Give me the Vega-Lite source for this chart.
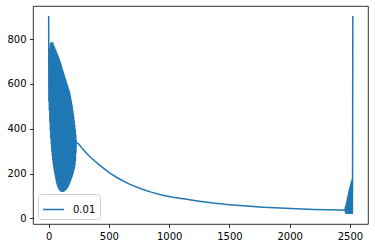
{
  "$schema": "https://vega.github.io/schema/vega-lite/v6.json",
  "width": 335,
  "height": 218,
  "autosize": {"type": "none"},
  "padding": {"left": 33, "top": 6, "right": 7, "bottom": 24},
  "background": "white",
  "data": {"values": [
    {"x":0,"y":904},{"x":2,"y":520},
    {"x":4,"y":650},{"x":6,"y":480},{"x":8,"y":720},{"x":10,"y":430},{"x":12,"y":760},{"x":14,"y":390},
    {"x":16,"y":780},{"x":18,"y":355},{"x":20,"y":786},{"x":22,"y":330},{"x":24,"y":787},{"x":26,"y":300},
    {"x":28,"y":786},{"x":30,"y":280},{"x":32,"y":786},{"x":34,"y":260},{"x":36,"y":781},{"x":38,"y":244},
    {"x":40,"y":775},{"x":42,"y":229},{"x":44,"y":770},{"x":46,"y":216},{"x":48,"y":765},{"x":50,"y":204},
    {"x":52,"y":759},{"x":54,"y":192},{"x":56,"y":754},{"x":58,"y":180},{"x":60,"y":749},{"x":62,"y":169},
    {"x":64,"y":743},{"x":66,"y":158},{"x":68,"y":738},{"x":70,"y":151},{"x":72,"y":733},{"x":74,"y":144},
    {"x":76,"y":727},{"x":78,"y":138},{"x":80,"y":722},{"x":82,"y":134},{"x":84,"y":717},{"x":86,"y":130},
    {"x":88,"y":711},{"x":90,"y":126},{"x":92,"y":705},{"x":94,"y":123},{"x":96,"y":698},{"x":98,"y":121},
    {"x":100,"y":691},{"x":102,"y":120},{"x":104,"y":684},{"x":106,"y":119},{"x":108,"y":677},{"x":110,"y":118},
    {"x":112,"y":670},{"x":114,"y":118},{"x":116,"y":663},{"x":118,"y":118},{"x":120,"y":656},{"x":122,"y":119},
    {"x":124,"y":649},{"x":126,"y":120},{"x":128,"y":642},{"x":130,"y":121},{"x":132,"y":635},{"x":134,"y":123},
    {"x":136,"y":628},{"x":138,"y":124},{"x":140,"y":621},{"x":142,"y":126},{"x":144,"y":614},{"x":146,"y":129},
    {"x":148,"y":607},{"x":150,"y":132},{"x":152,"y":600},{"x":154,"y":135},{"x":156,"y":593},{"x":158,"y":138},
    {"x":160,"y":587},{"x":162,"y":142},{"x":164,"y":580},{"x":166,"y":147},{"x":168,"y":573},{"x":170,"y":152},
    {"x":172,"y":566},{"x":174,"y":157},{"x":176,"y":558},{"x":178,"y":162},{"x":180,"y":547},{"x":182,"y":168},
    {"x":184,"y":535},{"x":186,"y":174},{"x":188,"y":524},{"x":190,"y":180},{"x":192,"y":512},{"x":194,"y":186},
    {"x":196,"y":499},{"x":198,"y":192},{"x":200,"y":484},{"x":202,"y":199},{"x":204,"y":469},{"x":206,"y":206},
    {"x":208,"y":454},{"x":210,"y":215},{"x":212,"y":436},{"x":214,"y":224},{"x":216,"y":418},{"x":218,"y":236},
    {"x":220,"y":400},{"x":222,"y":256},{"x":224,"y":378},{"x":226,"y":290},{"x":228,"y":350},{"x":230,"y":334},
    {"x":244,"y":335},{"x":285,"y":308},{"x":327,"y":283},{"x":380,"y":257},{"x":438,"y":231},{"x":505,"y":203},
    {"x":576,"y":179},{"x":670,"y":153},{"x":771,"y":131},{"x":850,"y":117},{"x":937,"y":104},{"x":1030,"y":94},
    {"x":1130,"y":86},{"x":1250,"y":76.5},{"x":1366,"y":68},{"x":1500,"y":61},{"x":1643,"y":55},{"x":1780,"y":50},
    {"x":1920,"y":46},{"x":2060,"y":43},{"x":2197,"y":40},{"x":2330,"y":38},{"x":2460,"y":36},
    {"x":2462,"y":50},{"x":2464,"y":24},{"x":2466,"y":58},{"x":2468,"y":20},{"x":2470,"y":66},{"x":2472,"y":19},
    {"x":2474,"y":76},{"x":2476,"y":19},{"x":2478,"y":86},{"x":2480,"y":19},{"x":2482,"y":96},{"x":2484,"y":19},
    {"x":2486,"y":106},{"x":2488,"y":19},{"x":2490,"y":117},{"x":2492,"y":19},{"x":2494,"y":127},{"x":2496,"y":19},
    {"x":2498,"y":136},{"x":2500,"y":19},{"x":2502,"y":144},{"x":2504,"y":19},{"x":2506,"y":152},{"x":2508,"y":19},
    {"x":2510,"y":160},{"x":2512,"y":19},{"x":2514,"y":168},{"x":2516,"y":19},{"x":2518,"y":176},{"x":2520,"y":19},
    {"x":2522,"y":184},{"x":2524,"y":904}
  ]},
  "mark": {"type": "line", "strokeWidth": 1.5, "clip": true},
  "encoding": {
    "x": {"field": "x", "type": "quantitative",
      "scale": {"domain": [-130, 2650], "nice": false, "zero": false},
      "axis": {"values": [0, 500, 1000, 1500, 2000, 2500], "format": "d", "title": null, "labelFlush": false}},
    "y": {"field": "y", "type": "quantitative",
      "scale": {"domain": [-25.3, 948.3], "nice": false, "zero": false},
      "axis": {"values": [0, 200, 400, 600, 800], "format": "d", "title": null}},
    "color": {"datum": "0.01", "type": "nominal",
      "scale": {"range": ["#1f77b4"]},
      "legend": {"orient": "bottom-left", "offset": 5, "title": null, "symbolType": "stroke",
        "symbolSize": 441, "symbolStrokeWidth": 1.5, "strokeColor": "#d0d0d0",
        "fillColor": "rgba(255,255,255,0.8)", "cornerRadius": 3, "padding": 4,
        "labelFontSize": 10, "labelFont": "DejaVu Sans", "labelColor": "#000", "labelOffset": 8}}
  },
  "config": {
    "view": {"stroke": "#000", "strokeWidth": 0.8},
    "axis": {"domain": false, "grid": false, "tickColor": "#000", "tickSize": 3.5, "tickWidth": 0.8,
      "labelColor": "#000", "labelFont": "DejaVu Sans", "labelFontSize": 10, "labelPadding": 3.5}
  }
}
